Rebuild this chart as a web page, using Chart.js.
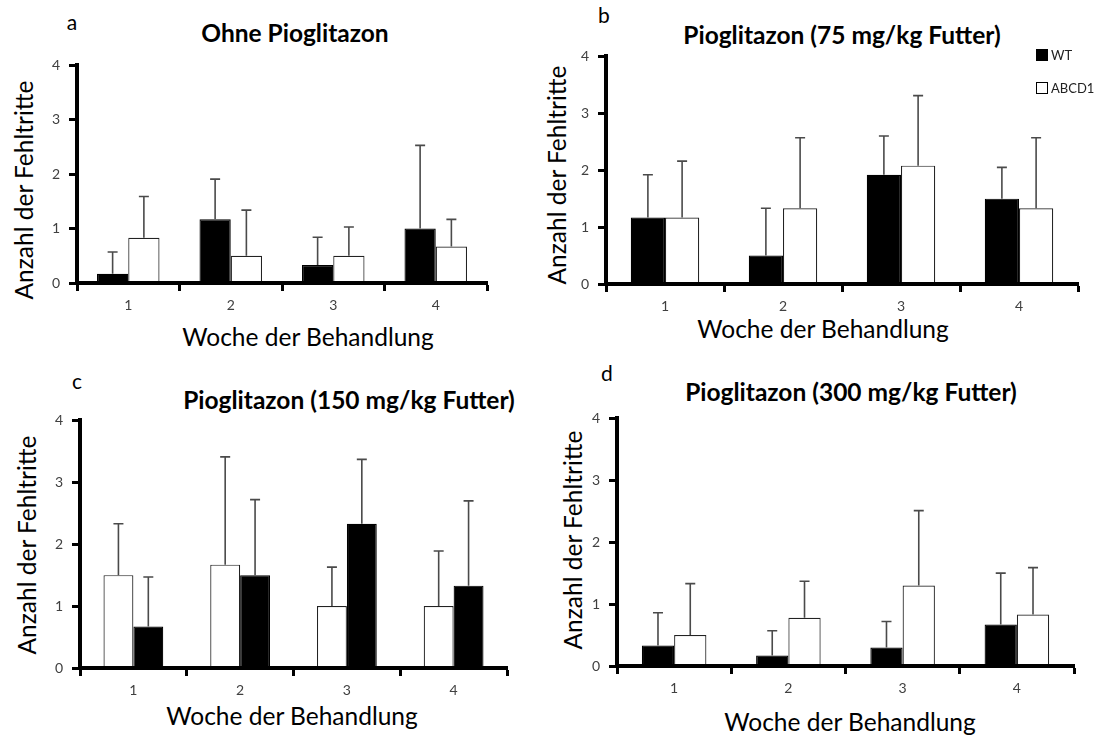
<!DOCTYPE html>
<html>
<head>
<meta charset="utf-8">
<script src="https://cdn.jsdelivr.net/npm/chart.js@4.4.1/dist/chart.umd.min.js"></script>
<style>
body{margin:0;width:1111px;height:735px;background:#fff;position:relative;overflow:hidden;font-family:Lato,sans-serif}
canvas{position:absolute}
.t{position:absolute;white-space:nowrap;transform:translate(-50%,-50%);color:#000;line-height:1}
.ttl{font-weight:bold;font-size:24.5px}
.ax{font-size:24.5px}
.ay{font-size:24.5px;transform:translate(-50%,-50%) rotate(-90deg)}
.lt{font-size:21px}
.leg{position:absolute;font-size:13px;color:#222;line-height:1}
.leg span{display:inline-block;width:10px;height:10px;border:1px solid #000;margin-right:3px;vertical-align:-1px}
</style>
</head>
<body>

<div class="t lt" style="left:72px;top:21px">a</div>
<div class="t ttl" style="left:295px;top:33px">Ohne Pioglitazon</div>
<div class="t ay" style="left:24px;top:190px">Anzahl der Fehltritte</div>
<div class="t ax" style="left:308px;top:337px">Woche der Behandlung</div>
<canvas id="ca" width="458" height="265" style="left:37px;top:48px"></canvas>

<div class="t lt" style="left:604px;top:14px">b</div>
<div class="t ttl" style="left:842px;top:35px">Pioglitazon (75 mg/kg Futter)</div>
<div class="t ay" style="left:557px;top:175px">Anzahl der Fehltritte</div>
<div class="t ax" style="left:823px;top:329px">Woche der Behandlung</div>
<canvas id="cb" width="520" height="275" style="left:566px;top:39px"></canvas>
<div class="leg" style="left:1036px;top:49px"><span style="background:#000"></span>WT</div>
<div class="leg" style="left:1036px;top:82px"><span style="background:#fff"></span>ABCD1</div>

<div class="t lt" style="left:77px;top:380px">c</div>
<div class="t ttl" style="left:349px;top:400px">Pioglitazon (150 mg/kg Futter)</div>
<div class="t ay" style="left:27px;top:545px">Anzahl der Fehltritte</div>
<div class="t ax" style="left:292px;top:716px">Woche der Behandlung</div>
<canvas id="cc" width="475" height="295" style="left:40px;top:403px"></canvas>

<div class="t lt" style="left:607px;top:372px">d</div>
<div class="t ttl" style="left:851px;top:392px">Pioglitazon (300 mg/kg Futter)</div>
<div class="t ay" style="left:573px;top:540px">Anzahl der Fehltritte</div>
<div class="t ax" style="left:850px;top:722px">Woche der Behandlung</div>
<canvas id="cd" width="505" height="295" style="left:577px;top:401px"></canvas>

<script>
var weeks = ['1', '2', '3', '4'];

// a: ohne Pioglitazon
var a_wt = [0.17, 1.17, 0.33, 1.0];
var a_wt_sd = [0.40, 0.74, 0.51, 1.53];
var a_ko = [0.83, 0.5, 0.5, 0.67];
var a_ko_sd = [0.76, 0.84, 0.53, 0.50];

// b: 75 mg/kg
var b_wt = [1.17, 0.5, 1.92, 1.5];
var b_wt_sd = [0.75, 0.83, 0.68, 0.55];
var b_ko = [1.17, 1.33, 2.08, 1.33];
var b_ko_sd = [0.99, 1.24, 1.23, 1.24];

// c: 150 mg/kg (white bars first here)
var c_ko = [1.5, 1.67, 1.0, 1.0];
var c_ko_sd = [0.83, 1.74, 0.63, 0.89];
var c_wt = [0.67, 1.5, 2.33, 1.33];
var c_wt_sd = [0.80, 1.22, 1.04, 1.37];

// d: 300 mg/kg
var d_wt = [0.33, 0.17, 0.3, 0.67];
var d_wt_sd = [0.53, 0.40, 0.42, 0.83];
var d_ko = [0.5, 0.78, 1.3, 0.83];
var d_ko_sd = [0.83, 0.59, 1.21, 0.76];

var errorBars = {
	id: 'errorBars',
	afterDatasetsDraw: function(chart) {
		var ctx = chart.ctx, y = chart.scales.y;
		chart.data.datasets.forEach(function(ds, i) {
			var meta = chart.getDatasetMeta(i);
			meta.data.forEach(function(bar, j) {
				var top = y.getPixelForValue(ds.data[j] + ds.sd[j]);
				ctx.save();
				ctx.strokeStyle = '#4a4a4a';
				ctx.lineWidth = 1.6;
				ctx.beginPath();
				ctx.moveTo(bar.x, bar.y);
				ctx.lineTo(bar.x, top);
				ctx.moveTo(bar.x - 5, top);
				ctx.lineTo(bar.x + 5, top);
				ctx.stroke();
				ctx.restore();
			});
		});
	}
};

function wtSet(data, sd) {
	return {label: 'WT', data: data, sd: sd, backgroundColor: '#000', borderColor: '#000'};
}
function koSet(data, sd) {
	return {label: 'ABCD1', data: data, sd: sd, backgroundColor: '#fff', borderColor: '#222'};
}

function makeChart(id, sets, catPct) {
	var tickFont = {family: 'Lato', size: 14};
	return new Chart(document.getElementById(id), {
		type: 'bar',
		data: {labels: weeks, datasets: sets},
		options: {
			responsive: false,
			animation: false,
			devicePixelRatio: 1,
			layout: {padding: {top: 6, right: 8, left: 0, bottom: 0}},
			plugins: {legend: {display: false}, tooltip: {enabled: false}},
			datasets: {bar: {categoryPercentage: catPct, barPercentage: 1, borderWidth: 1.2, borderSkipped: 'bottom'}},
			scales: {
				x: {
					grid: {offset: true, drawOnChartArea: false, tickLength: 8, tickWidth: 3, tickColor: '#000'},
					border: {color: '#000', width: 4, z: 1},
					ticks: {color: '#404040', font: tickFont, padding: 6},
					afterFit: function(s) { s.height = 30; }
				},
				y: {
					min: 0, max: 4,
					grid: {drawOnChartArea: false, tickLength: 8, tickWidth: 3, tickColor: '#000'},
					border: {color: '#000', width: 4},
					ticks: {stepSize: 1, color: '#404040', font: tickFont, padding: 9},
					afterFit: function(s) { s.width = 40; }
				}
			}
		},
		plugins: [errorBars]
	});
}

makeChart('ca', [wtSet(a_wt, a_wt_sd), koSet(a_ko, a_ko_sd)], 0.61);
makeChart('cb', [wtSet(b_wt, b_wt_sd), koSet(b_ko, b_ko_sd)], 0.58);
makeChart('cc', [koSet(c_ko, c_ko_sd), wtSet(c_wt, c_wt_sd)], 0.56);
makeChart('cd', [wtSet(d_wt, d_wt_sd), koSet(d_ko, d_ko_sd)], 0.565);
</script>
</body>
</html>
